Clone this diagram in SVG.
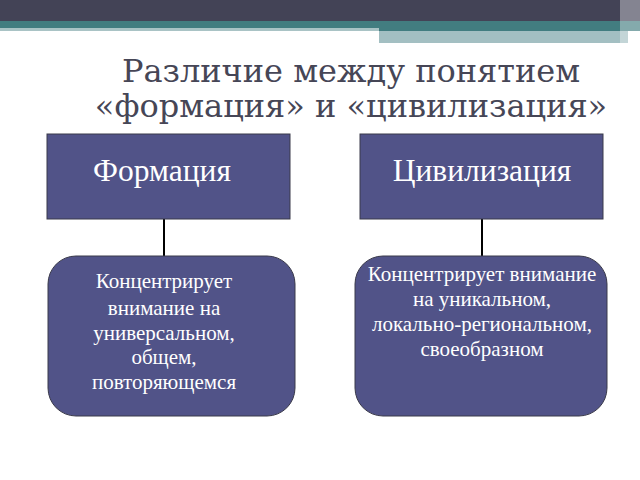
<svg xmlns="http://www.w3.org/2000/svg" width="640" height="480" viewBox="0 0 640 480">
<style>
.box{fill:#515388;stroke:#3a3a4a;stroke-width:1}
.head{font-family:"Liberation Serif",serif;font-size:31.5px;fill:#ffffff;text-anchor:middle}
.body{font-family:"Liberation Serif",serif;font-size:21px;fill:#ffffff;text-anchor:middle}
.title{font-family:"DejaVu Serif",serif;font-size:32px;fill:#464656;text-anchor:middle}
.conn{stroke:#000;stroke-width:2;fill:none}
</style>
<rect x="0" y="0" width="640" height="480" fill="#ffffff"/>
<g id="topbar">
<rect x="0" y="0" width="640" height="21" fill="#434356"/>
<rect x="0" y="21" width="640" height="10" fill="#427d80"/>
<rect x="0" y="28" width="379" height="3" fill="#a9c3c5"/>
<rect x="379" y="31" width="249" height="12" fill="#a3bfc2"/>
<rect x="620" y="0" width="20" height="43" fill="#ffffff" opacity="0.35"/>
</g>
<g id="title">
<text class="title" x="351" y="82">Различие между понятием</text>
<text class="title" x="351" y="117">«формация» и «цивилизация»</text>
</g>
<g id="connectors">
<line class="conn" x1="164" y1="219" x2="164" y2="256"/>
<line class="conn" x1="482" y1="219" x2="482" y2="256"/>
</g>
<g id="formation">
<rect class="box" x="47" y="134" width="243" height="85"/>
<text class="head" x="162" y="181">Формация</text>
</g>
<g id="civilization">
<rect class="box" x="360" y="134" width="243" height="85"/>
<text class="head" x="482" y="181">Цивилизация</text>
</g>
<g id="formation-desc">
<rect class="box" x="48" y="256" width="247" height="160" rx="28" ry="28"/>
<text class="body" x="164" y="288">Концентрирует</text>
<text class="body" x="164" y="315">внимание на</text>
<text class="body" x="164" y="340">универсальном,</text>
<text class="body" x="164" y="364">общем,</text>
<text class="body" x="164" y="389">повторяющемся</text>
</g>
<g id="civilization-desc">
<rect class="box" x="355" y="256" width="252" height="160" rx="28" ry="28"/>
<text class="body" x="482" y="281">Концентрирует внимание</text>
<text class="body" x="482" y="306">на уникальном,</text>
<text class="body" x="482" y="331">локально-региональном,</text>
<text class="body" x="482" y="356">своеобразном</text>
</g>
</svg>
